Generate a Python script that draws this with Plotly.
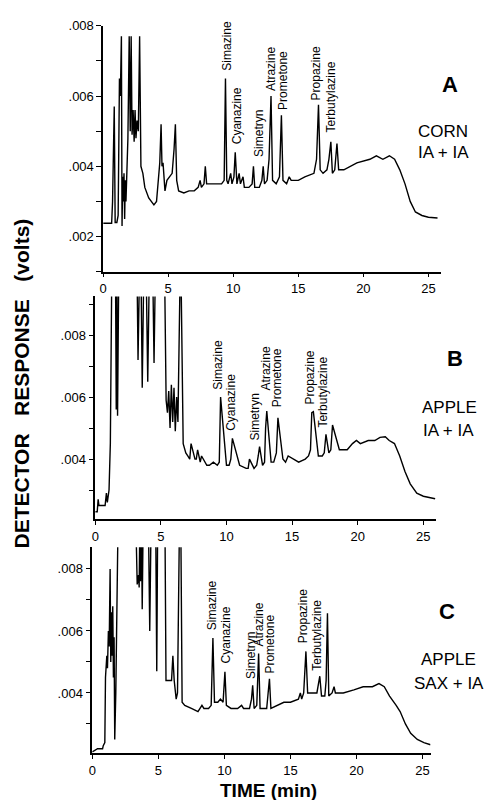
import plotly.graph_objects as go

# ---------------- data ----------------
peak_names = ["Simazine", "Cyanazine", "Simetryn", "Atrazine", "Prometone", "Propazine", "Terbutylazine"]

a_time = [0.0, 0.65, 0.72, 0.85, 0.92, 1.05, 1.15, 1.25, 1.32, 1.40, 1.45, 1.5, 1.55, 1.6, 1.65, 1.7, 1.75, 1.82,
          1.9, 2.0, 2.08, 2.15, 2.22, 2.3, 2.38, 2.45, 2.52, 2.6, 2.7, 2.8, 2.9, 3.05, 3.2, 3.5, 3.9, 4.1, 4.25,
          4.35, 4.45, 4.52, 4.6, 4.75, 4.9, 5.1, 5.3, 5.45, 5.55, 5.65, 5.8, 6.2, 6.6, 7.0, 7.3, 7.45, 7.55, 7.75,
          7.85, 7.95, 8.5, 9.1, 9.3, 9.4, 9.5, 9.6, 9.8, 9.9, 10.05, 10.15, 10.28, 10.45, 10.55, 10.75, 10.85,
          11.2, 11.45, 11.55, 11.65, 12.0, 12.2, 12.3, 12.4, 12.6, 12.75, 12.9, 13.02, 13.3, 13.55, 13.7, 13.82,
          14.1, 14.3, 14.45, 15.0, 15.5, 16.2, 16.4, 16.55, 16.68, 16.9, 17.2, 17.35, 17.5, 17.62, 17.8, 17.97,
          18.1, 18.5, 19.5, 20.5, 21.0, 21.5, 22.0, 22.4, 22.8, 23.2, 23.6, 24.0, 24.5, 25.0, 25.7]
a_resp = [0.00238, 0.00238, 0.0030, 0.0057, 0.0024, 0.0024, 0.0026, 0.0065, 0.0060, 0.0077, 0.0023, 0.0037,
          0.0030, 0.0038, 0.0025, 0.0036, 0.0030, 0.0040, 0.0048, 0.0077, 0.0050, 0.0077, 0.0049, 0.0056, 0.0047,
          0.0056, 0.0048, 0.0053, 0.0050, 0.0077, 0.0040, 0.0038, 0.0034, 0.0031, 0.0029, 0.0030, 0.0036, 0.0041,
          0.0052, 0.0040, 0.0041, 0.0033, 0.0036, 0.0037, 0.0038, 0.0045, 0.0052, 0.0036, 0.0033, 0.00324, 0.0033,
          0.0033, 0.0034, 0.0036, 0.0034, 0.0035, 0.0040, 0.0035, 0.0035, 0.0035, 0.0036, 0.0065, 0.0036, 0.0035,
          0.0038, 0.0035, 0.0037, 0.0044, 0.0035, 0.0038, 0.0035, 0.0037, 0.0034, 0.0034, 0.0035, 0.0040, 0.0034,
          0.0034, 0.0036, 0.0040, 0.0035, 0.0036, 0.0042, 0.0060, 0.0036, 0.0035, 0.0037, 0.00545, 0.0036, 0.0035,
          0.0037, 0.0036, 0.0036, 0.0037, 0.0038, 0.0042, 0.00575, 0.0039, 0.0038, 0.0039, 0.0042, 0.0047, 0.0038,
          0.0039, 0.00465, 0.0039, 0.0039, 0.0041, 0.0042, 0.0043, 0.0042, 0.0043, 0.0042, 0.0039, 0.0035, 0.0030,
          0.0027, 0.0026, 0.00255, 0.00253]

b_time = [0.0, 0.15, 0.22, 0.28, 0.75, 0.85, 0.92, 1.05, 1.15, 1.25, 1.55, 1.6, 1.65, 1.7, 1.78, 3.2, 3.26, 3.35,
          3.5, 3.58, 3.68, 3.9, 4.0, 4.1, 4.4, 4.48, 4.56, 5.3, 5.4, 5.5, 5.6, 5.7, 5.8, 5.9, 6.0, 6.1, 6.2, 6.3,
          6.45, 6.55, 6.7, 6.9, 7.05, 7.2, 7.3, 7.6, 7.7, 7.8, 8.0, 8.1, 8.5, 8.7, 9.0, 9.3, 9.45, 9.55, 10.0,
          10.2, 10.33, 10.45, 11.0, 11.5, 11.65, 11.75, 12.1, 12.3, 12.42, 12.52, 12.75, 12.9, 12.98, 13.07,
          13.4, 13.6, 13.8, 13.92, 14.3, 14.5, 14.7, 15.5, 16.0, 16.25, 16.4, 16.5, 16.62, 17.0, 17.3, 17.45,
          17.58, 17.8, 17.95, 18.08, 18.6, 19.2, 19.6, 19.9, 20.2, 20.8, 21.3, 21.7, 22.1, 22.4, 22.8, 23.2,
          23.6, 24.0, 24.5, 25.0, 25.9]
b_resp = [0.0023, 0.0023, 0.0027, 0.0025, 0.0025, 0.0029, 0.0026, 0.0030, 0.0045, 0.0095, 0.0095, 0.0056,
          0.0095, 0.0054, 0.0095, 0.0095, 0.0072, 0.0095, 0.0095, 0.0063, 0.0095, 0.0095, 0.0065, 0.0095, 0.0095,
          0.0071, 0.0095, 0.0095, 0.0059, 0.0055, 0.0062, 0.0050, 0.0064, 0.0052, 0.0063, 0.0049, 0.0060, 0.0052,
          0.0095, 0.0095, 0.0045, 0.0042, 0.0041, 0.0040, 0.0045, 0.0040, 0.0040, 0.0043, 0.0039, 0.0041, 0.0038,
          0.0038, 0.0039, 0.0038, 0.0039, 0.0060, 0.0038, 0.0038, 0.0040, 0.00467, 0.0038, 0.0037, 0.0037, 0.0040,
          0.0037, 0.0038, 0.0041, 0.0044, 0.0038, 0.0039, 0.0050, 0.00555, 0.0039, 0.0039, 0.0042, 0.00533,
          0.0040, 0.0039, 0.0041, 0.0039, 0.0040, 0.0041, 0.0043, 0.0055, 0.00553, 0.0041, 0.0041, 0.0042,
          0.0048, 0.0042, 0.0043, 0.0051, 0.0043, 0.0043, 0.0045, 0.0046, 0.0045, 0.0046, 0.0046, 0.0047,
          0.00472, 0.0046, 0.0045, 0.0041, 0.0036, 0.0032, 0.0029, 0.0028, 0.00272, 0.0027]

c_time = [0.0, 0.4, 0.78, 0.83, 0.95, 1.0, 1.1, 1.15, 1.22, 1.28, 1.35, 1.4, 1.45, 1.5, 1.55, 1.6, 1.65, 1.7,
          1.78, 1.95, 3.3, 3.4, 3.5, 3.55, 3.6, 3.65, 3.72, 3.78, 3.85, 4.25, 4.35, 4.45, 4.8, 4.88, 4.95, 5.5,
          5.58, 5.7, 6.0, 6.1, 6.2, 6.35, 6.45, 6.6, 6.7, 6.8, 7.0, 7.5, 8.0, 8.3, 8.45, 8.8, 9.0, 9.13, 9.25,
          9.5, 9.7, 9.9, 10.04, 10.15, 10.5, 11.0, 11.3, 11.45, 11.9, 12.05, 12.14, 12.25, 12.45, 12.59, 12.7,
          13.2, 13.41, 13.52, 14.0, 14.5, 15.0, 15.6, 15.75, 15.85, 16.0, 16.17, 16.3, 16.7, 17.0, 17.22, 17.35,
          17.6, 17.7, 17.8, 17.9, 18.15, 18.3, 18.4, 19.0, 19.8, 20.5, 21.2, 21.7, 22.1, 22.5, 23.0, 23.3, 23.7,
          24.1, 24.6, 25.1, 25.6]
c_resp = [0.0021, 0.0022, 0.0022, 0.0023, 0.0024, 0.0045, 0.0052, 0.0048, 0.0060, 0.0055, 0.0080, 0.0050,
          0.0066, 0.0052, 0.0068, 0.0045, 0.0058, 0.0025, 0.0040, 0.0095, 0.0095, 0.0075, 0.0078, 0.0074, 0.0095,
          0.0076, 0.0095, 0.0067, 0.0095, 0.0095, 0.0060, 0.0095, 0.0095, 0.0047, 0.0095, 0.0095, 0.0044, 0.0044,
          0.0044, 0.0052, 0.0044, 0.0038, 0.0040, 0.0095, 0.0095, 0.0037, 0.0036, 0.0035, 0.0034, 0.0036, 0.0035,
          0.0035, 0.0036, 0.00577, 0.0037, 0.0037, 0.0038, 0.0037, 0.00468, 0.0036, 0.0035, 0.0035, 0.0036,
          0.0035, 0.0035, 0.0038, 0.00425, 0.0035, 0.0036, 0.00527, 0.0035, 0.0035, 0.00446, 0.0035, 0.0036,
          0.0037, 0.0037, 0.0038, 0.0040, 0.0038, 0.0040, 0.00534, 0.0040, 0.0040, 0.0040, 0.00454, 0.0039,
          0.0039, 0.0044, 0.00657, 0.0039, 0.0040, 0.0042, 0.0040, 0.0040, 0.0041, 0.0042, 0.0042, 0.0043,
          0.0042, 0.0039, 0.0036, 0.0034, 0.0030, 0.0027, 0.0025, 0.0024, 0.00233]

# label anchor points (time, response at bottom of label)
a_label_t = [9.53, 10.3, 11.97, 12.88, 13.87, 16.39, 17.53]
a_label_v = [0.0067, 0.00459, 0.00425, 0.00611, 0.00558, 0.00586, 0.00493]
b_label_t = [9.39, 10.33, 12.14, 12.98, 13.86, 16.39, 17.33]
b_label_v = [0.00622, 0.00489, 0.00457, 0.00617, 0.00563, 0.00574, 0.00499]
c_label_t = [9.03, 10.08, 11.96, 12.59, 13.46, 15.92, 17.04]
c_label_v = [0.00598, 0.00492, 0.00441, 0.00545, 0.00458, 0.00556, 0.00468]

x_ticks = [0, 5, 10, 15, 20, 25]
a_yticks = [0.002, 0.004, 0.006, 0.008]
bc_yticks = [0.004, 0.006, 0.008]

panel_letters = ["A", "B", "C"]
panel_samples = [["CORN", "IA + IA"], ["APPLE", "IA + IA"], ["APPLE", "SAX + IA"]]

# ---------------- figure ----------------
W, H = 493, 800
FONT = "Liberation Sans, Arial, sans-serif"

def px(x):
    return x / W

def py(y):
    return 1 - y / H

fig = go.Figure()
panels = [
    (a_time, a_resp, "x", "y"),
    (b_time, b_resp, "x2", "y2"),
    (c_time, c_resp, "x3", "y3"),
]
for t, v, xa, ya in panels:
    fig.add_trace(go.Scatter(x=t, y=v, mode="lines", xaxis=xa, yaxis=ya,
                             line=dict(color="black", width=1.4), showlegend=False,
                             hoverinfo="skip"))

xdoms = [[px(100), px(441)], [px(92), px(436)], [px(89), px(430)]]
ydoms = [[py(267), py(19)], [py(517), py(292)], [py(753), py(545)]]
xranges = [[0, 26], [0, 26], [0, 25.6]]
yranges = [[0.001, 0.008], [0.00205, 0.00925], [0.00205, 0.0087]]
ytickvals = [a_yticks, bc_yticks, bc_yticks]

layout = dict(
    width=W, height=H, margin=dict(l=0, r=0, t=0, b=0),
    paper_bgcolor="white", plot_bgcolor="white", showlegend=False,
    font=dict(family=FONT, color="black"),
)
for i in range(3):
    sx = "" if i == 0 else str(i + 1)
    layout["xaxis" + sx] = dict(
        domain=xdoms[i], range=xranges[i], anchor="y" + sx,
        showline=True, linecolor="black", linewidth=1.5, showgrid=False, zeroline=False,
        ticks="outside", ticklen=4, tickwidth=1.2, tickcolor="black",
        tickmode="array", tickvals=x_ticks, ticktext=[str(v) for v in x_ticks],
        tickfont=dict(size=13, family=FONT, color="black"),
    )
    layout["yaxis" + sx] = dict(
        domain=ydoms[i], range=yranges[i], anchor="x" + sx,
        showline=True, linecolor="black", linewidth=1.5, showgrid=False, zeroline=False,
        ticks="outside", ticklen=5, tickwidth=1.2, tickcolor="black",
        tickmode="array", tickvals=ytickvals[i],
        ticktext=[("%.3f" % v)[1:] for v in ytickvals[i]],
        tickfont=dict(size=13, family=FONT, color="black"),
        minor=dict(tickmode="linear", tick0=0, dtick=0.001, ticks="outside", ticklen=5,
                   tickwidth=1.2, tickcolor="black", showgrid=False),
    )
fig.update_layout(**layout)

annotations = []
label_sets = [(a_label_t, a_label_v), (b_label_t, b_label_v), (c_label_t, c_label_v)]
for i, (lt, lv) in enumerate(label_sets):
    sx = "" if i == 0 else str(i + 1)
    for name, t, v in zip(peak_names, lt, lv):
        annotations.append(dict(x=t, y=v, xref="x" + sx, yref="y" + sx, text=name,
                                textangle=-90, showarrow=False, xanchor="center", yanchor="bottom",
                                borderpad=0,
                                font=dict(size=12, family=FONT, color="black")))

letter_pos = [(450, 78), (455, 355), (447, 610)]
sample_pos = [[(443, 126), (443, 147)], [(449, 404), (448, 427)], [(448, 658), (449, 682)]]
for i in range(3):
    lx, ly = letter_pos[i]
    annotations.append(dict(x=px(lx), y=py(ly), xref="paper", yref="paper", text="<b>%s</b>" % panel_letters[i],
                            showarrow=False, xanchor="center", yanchor="middle",
                            font=dict(size=22, family=FONT, color="black")))
    for txt, (sx_, sy_) in zip(panel_samples[i], sample_pos[i]):
        annotations.append(dict(x=px(sx_), y=py(sy_), xref="paper", yref="paper", text=txt,
                                showarrow=False, xanchor="center", yanchor="middle",
                                font=dict(size=17, family=FONT, color="black")))

annotations.append(dict(x=px(18), y=py(380), xref="paper", yref="paper",
                        text="<b>DETECTOR\u00a0\u00a0\u00a0RESPONSE\u00a0\u00a0\u00a0(volts)</b>",
                        textangle=-90, showarrow=False, xanchor="center", yanchor="middle",
                        font=dict(size=21, family=FONT, color="black")))
annotations.append(dict(x=px(267), y=py(790), xref="paper", yref="paper", text="<b>TIME (min)</b>",
                        showarrow=False, xanchor="center", yanchor="middle", borderpad=0,
                        font=dict(size=19, family=FONT, color="black")))
fig.update_layout(annotations=annotations)

fig.write_html("out.html")
